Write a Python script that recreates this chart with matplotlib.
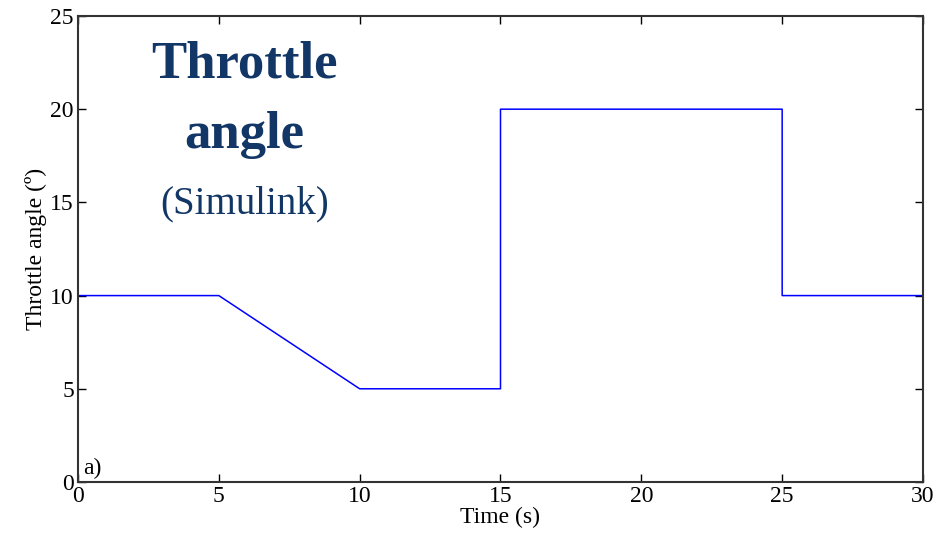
import matplotlib
matplotlib.use("Agg")
import matplotlib.pyplot as plt

plt.rcParams["font.family"] = ["Liberation Serif", "DejaVu Serif"]

# throttle command breakpoints (time in s, angle in degrees)
time_s = [0, 5, 10, 15, 15, 25, 25, 30]
angle_deg = [10, 10, 5, 5, 20, 20, 10, 10]

x_ticks = [0, 5, 10, 15, 20, 25, 30]
y_ticks = [0, 5, 10, 15, 20, 25]

title_color = "#123766"

fig = plt.figure(figsize=(9.43, 5.38), dpi=100)
ax = fig.add_axes([0.0827, 0.1041, 0.8961, 0.8662])

ax.plot(time_s, angle_deg, color="blue", linewidth=1.1)

ax.set_xlim(0, 30)
ax.set_ylim(0, 25)
ax.set_xticks(x_ticks)
ax.set_yticks(y_ticks)
ax.tick_params(direction="in", top=True, right=True, labelsize=17,
               length=6, width=1.0, pad=3)
for spine in ax.spines.values():
    spine.set_linewidth(1.5)
    spine.set_color("#333333")

ax.set_xlabel("Time (s)", fontsize=17, labelpad=0)
ax.set_ylabel("Throttle angle (º)", fontsize=17, labelpad=2)

ax.text(0.2, 0.45, "a)", fontsize=17)

ax.text(5.9, 22.4, "Throttle", fontsize=38, fontweight="bold",
        color=title_color, ha="center", va="center")
ax.text(5.9, 18.6, "angle", fontsize=38, fontweight="bold",
        color=title_color, ha="center", va="center")
ax.text(5.9, 14.9, "(Simulink)", fontsize=28,
        color=title_color, ha="center", va="center")

fig.savefig("out.png", dpi=100)
